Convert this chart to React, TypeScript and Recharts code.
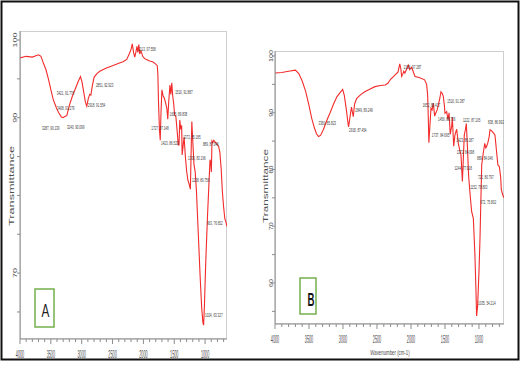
import { LineChart, Line, XAxis, YAxis, ReferenceDot } from 'recharts';

const RED = '#f22b2b';
const AXIS = '#8c8c8c';
const FRAME = '#cfcfcf';
const TXT = '#4d4d4d';
const GREEN = '#74b04c';
const FONT = 'Liberation Sans, Arial, sans-serif';

// wavenumber ticks (cm-1), labelled every 500
const WN_TICKS = [4000, 3900, 3800, 3700, 3600, 3500, 3400, 3300, 3200, 3100, 3000, 2900, 2800, 2700, 2600, 2500, 2400, 2300, 2200, 2100, 2000, 1900, 1800, 1700, 1600, 1500, 1400, 1300, 1200, 1100, 1000, 900, 800, 700];
const T_TICKS_A = [65, 70, 75, 80, 85, 90, 95, 100];
const T_LABELS_A = [100, 90, 70];
const T_TICKS_B = [55, 60, 65, 70, 75, 80, 85, 90, 95, 100];
const T_LABELS_B = [100, 90, 80, 70, 60];

// spectrum A
const A_WN = [4000, 3900, 3800, 3700, 3660, 3620, 3580, 3540, 3500, 3460, 3421, 3408, 3370, 3330, 3300, 3287, 3240, 3200, 3150, 3100, 3060, 3020, 2995, 2965, 2940, 2918, 2895, 2870, 2851, 2830, 2800, 2750, 2700, 2600, 2500, 2400, 2330, 2270, 2230, 2200, 2180, 2160, 2140, 2120, 2105, 2090, 2075, 2060, 2040, 2010, 1980, 1950, 1900, 1850, 1800, 1775, 1765, 1755, 1740, 1727, 1715, 1700, 1680, 1660, 1640, 1620, 1605, 1590, 1570, 1555, 1540, 1525, 1510, 1495, 1473, 1450, 1435, 1423, 1410, 1393, 1380, 1372, 1355, 1340, 1320, 1300, 1280, 1260, 1245, 1238, 1228, 1215, 1200, 1180, 1160, 1140, 1110, 1080, 1055, 1035, 1024, 1010, 995, 984, 960, 935, 920, 908, 898, 889, 875, 860, 840, 810, 780, 760, 740, 720, 700, 680, 663, 645];
const A_T = [97.7, 97.9, 97.8, 98.1, 97.9, 97.0, 96.2, 95.0, 93.6, 92.3, 91.5, 91.2, 90.6, 90.1, 90.0, 90.1, 90.3, 91.6, 92.8, 93.8, 94.6, 95.3, 94.6, 93.2, 92.0, 91.5, 92.4, 93.0, 92.9, 94.0, 95.2, 95.7, 96.0, 96.4, 96.7, 97.0, 97.2, 97.5, 98.2, 98.8, 99.5, 98.4, 97.8, 98.5, 99.2, 98.4, 99.4, 98.2, 98.6, 97.9, 97.6, 97.5, 97.3, 97.2, 96.9, 96.7, 95.5, 92.0, 88.5, 87.1, 90.5, 93.6, 92.8, 92.5, 91.9, 91.2, 89.8, 92.0, 94.2, 93.0, 94.5, 92.8, 91.9, 90.4, 90.1, 88.0, 86.5, 86.5, 89.7, 88.5, 89.0, 85.2, 86.5, 87.5, 85.0, 83.2, 82.0, 81.5, 81.0, 80.8, 85.0, 89.5, 87.0, 84.0, 83.0, 80.5, 75.0, 69.5, 65.5, 63.6, 63.3, 66.0, 70.0, 72.6, 77.5, 82.0, 84.6, 84.2, 83.0, 87.0, 86.8, 87.1, 86.9, 86.6, 86.3, 85.5, 83.5, 80.5, 78.5, 77.0, 76.6, 76.0];

// spectrum B
const B_WN = [4000, 3900, 3800, 3700, 3650, 3600, 3550, 3500, 3460, 3420, 3390, 3360, 3330, 3290, 3240, 3190, 3140, 3090, 3040, 3005, 2980, 2950, 2930, 2918, 2900, 2875, 2860, 2849, 2830, 2800, 2740, 2680, 2600, 2530, 2450, 2380, 2340, 2300, 2240, 2190, 2165, 2150, 2137, 2120, 2106, 2090, 2060, 2040, 2020, 1990, 1960, 1940, 1880, 1800, 1770, 1755, 1745, 1737, 1720, 1706, 1690, 1672, 1652, 1637, 1615, 1598, 1575, 1559, 1540, 1525, 1510, 1500, 1475, 1456, 1440, 1423, 1400, 1392, 1372, 1353, 1328, 1304, 1285, 1265, 1244, 1230, 1216, 1200, 1186, 1170, 1152, 1130, 1108, 1083, 1060, 1045, 1035, 1020, 1000, 985, 960, 936, 915, 900, 889, 870, 850, 838, 820, 790, 765, 740, 722, 700, 680, 672, 650, 632];
const B_T = [97.0, 97.1, 97.3, 97.5, 96.9, 95.6, 93.8, 91.3, 89.0, 87.3, 86.3, 85.8, 86.0, 87.0, 88.6, 90.0, 91.5, 92.8, 93.6, 94.1, 93.0, 90.5, 88.5, 87.5, 89.0, 91.0, 90.0, 89.3, 91.5, 92.5, 93.2, 93.7, 94.2, 94.6, 94.8, 94.9, 95.2, 95.9, 96.6, 97.2, 98.6, 97.8, 96.4, 96.8, 97.3, 97.0, 97.8, 98.4, 97.6, 98.0, 97.0, 96.4, 96.2, 95.8, 95.0, 93.1, 89.0, 84.7, 88.0, 90.8, 90.5, 91.7, 89.4, 89.9, 90.5, 91.3, 92.6, 93.7, 93.4, 92.9, 91.4, 89.9, 90.2, 88.8, 90.0, 86.2, 87.8, 89.2, 84.1, 86.1, 87.1, 84.6, 83.5, 82.6, 77.9, 82.0, 86.1, 87.0, 88.1, 84.0, 78.8, 75.5, 72.6, 71.4, 65.0, 59.0, 54.2, 56.0, 62.0, 67.9, 80.8, 83.0, 84.6, 83.8, 84.0, 84.7, 85.8, 87.0, 86.9, 86.5, 86.1, 83.0, 80.8, 80.5, 78.5, 76.5, 75.5, 75.0];

// peak annotations
const A_PEAK_WN = [3421, 3408, 3287, 3240, 2918, 2851, 2113, 1727, 1605, 1510, 1423, 1372, 1300, 1238, 1024, 889, 663];
const A_PEAK_T = [91.776, 91.279, 90.139, 90.099, 91.554, 92.923, 97.558, 87.148, 89.838, 91.887, 86.523, 85.185, 83.196, 80.756, 63.327, 87.046, 76.652];
const B_PEAK_WN = [3360, 2918, 2849, 2106, 1737, 1652, 1510, 1456, 1423, 1372, 1244, 1222, 1152, 1035, 889, 838, 722, 672];
const B_PEAK_T = [85.823, 87.454, 89.249, 97.287, 84.695, 89.417, 91.387, 88.756, 86.187, 84.098, 77.918, 87.105, 78.803, 54.214, 84.046, 86.992, 80.797, 75.802];

// label nudges (dx, dy) from the marked point - layout only
const A_NUDGE: [number, number][] = [[1, -11], [0.5, 0], [-22, 12], [0, 10], [1, 0], [5, -10], [2, -10], [-9, -12], [2, -5], [1.5, -11], [-18, -2], [1, -18], [1.5, -12], [1.5, -9], [1.5, -10], [-9, 4], [-19, 2]];
const B_NUDGE: [number, number][] = [[0, -13], [0.5, 3], [2, -7], [0, -4], [3, -8], [-12, -11], [3, -4], [-10, -1], [6, 6], [3, 6], [-8, -13], [-1, -9], [1.5, 11], [1.5, -13], [-9.5, 12], [-2, -8], [-20, 12], [-21, 9]];

// horizontally condensed text (the source figure is squeezed sideways)
const SqText = ({ x, y, sx, size, anchor = 'start', fill = TXT, children }: any) => (
  <text transform={`translate(${x} ${y}) scale(${sx} 1)`} x={0} y={0} textAnchor={anchor}
    fontSize={size} fill={fill} fontFamily={FONT}>{children}</text>
);

const XTick = ({ x, y, payload }: any) => {
  const v = payload.value;
  const major = v % 500 === 0;
  const ay = y - 4; // axis line position (tickSize 4, tickMargin 0)
  return (
    <g>
      <line x1={x} y1={ay} x2={x} y2={ay + (major ? 5 : 3)} stroke={AXIS} />
      {major && <SqText x={x} y={ay + 19} sx={0.38} size={10} anchor="middle">{v}</SqText>}
    </g>
  );
};

const YTick = ({ x, y, payload, labels, gap, per }: any) => {
  const v = payload.value;
  const s = String(v);
  const ax = x + 4; // axis line position
  const cx = ax - gap;
  return (
    <g>
      <line x1={ax - 3} y1={y} x2={ax} y2={y} stroke={AXIS} />
      {labels.includes(v) && (
        <text x={cx} y={y} transform={`rotate(-90 ${cx} ${y})`} textAnchor="middle" fontSize={6} fill={TXT}
          textLength={s.length * per} lengthAdjust="spacingAndGlyphs" fontFamily={FONT}>{s}</text>
      )}
    </g>
  );
};

const peakShape = (text: string, n: [number, number]) => (p: any) => (
  <SqText x={p.cx + n[0]} y={p.cy + n[1] + 1.8} sx={0.6} size={5} fill="#3a3a3a">{text}</SqText>
);

function Spectrum({ wn, t, peakWn, peakT, nudge, margin, xMin, yDomain, yTicks, yLabels, gap, per }: any) {
  const data = wn.map((w: number, i: number) => ({ w, t: t[i] }));
  return (
    <div style={{ position: 'absolute', left: 0, top: 0 }}>
      <LineChart width={524} height={391} data={data} margin={margin}>
        <XAxis type="number" dataKey="w" domain={[xMin, 4000]} reversed allowDataOverflow ticks={WN_TICKS} interval={0}
          tickSize={4} tickMargin={0} tickLine={false} height={30} axisLine={{ stroke: AXIS }} tick={<XTick />} />
        <YAxis type="number" domain={yDomain} allowDataOverflow ticks={yTicks} interval={0} width={20}
          tickSize={4} tickMargin={0} tickLine={false} axisLine={{ stroke: AXIS }}
          tick={<YTick labels={yLabels} gap={gap} per={per} />} />
        <Line type="linear" dataKey="t" stroke={RED} strokeWidth={1.1} dot={false} isAnimationActive={false} />
        {peakWn.map((w: number, i: number) => {
          const label = `${w}, ${peakT[i].toFixed(3)}`;
          return <ReferenceDot key={i} x={w} y={peakT[i]} r={1} shape={peakShape(label, nudge[i])} />;
        })}
      </LineChart>
    </div>
  );
}

export default function App() {
  return (
    <div style={{ position: 'absolute', left: 0, top: 0, width: 524, height: 391, background: '#fff', fontFamily: FONT }}>
      {/* plot frames */}
      <div style={{ position: 'absolute', left: 20, top: 31, width: 207, height: 308, border: `1px solid ${FRAME}`, boxSizing: 'border-box' }} />
      <div style={{ position: 'absolute', left: 275, top: 51, width: 229, height: 273, border: `1px solid ${FRAME}`, boxSizing: 'border-box' }} />
      <Spectrum wn={A_WN} t={A_T} peakWn={A_PEAK_WN} peakT={A_PEAK_T} nudge={A_NUDGE}
        margin={{ top: 31, left: 0, right: 297, bottom: 22 }} xMin={645} yDomain={[61.52, 101.16]}
        yTicks={T_TICKS_A} yLabels={T_LABELS_A} gap={2.5} per={5} />
      <Spectrum wn={B_WN} t={B_T} peakWn={B_PEAK_WN} peakT={B_PEAK_T} nudge={B_NUDGE}
        margin={{ top: 51, left: 255, right: 20, bottom: 37 }} xMin={632} yDomain={[52.77, 100.88]}
        yTicks={T_TICKS_B} yLabels={T_LABELS_B} gap={2} per={4} />
      <svg width={524} height={391} style={{ position: 'absolute', left: 0, top: 0, pointerEvents: 'none' }}>
        <rect x={1.5} y={1.5} width={517} height={358} fill="none" stroke="#111" strokeWidth={2} />
        <text x={14} y={186} transform="rotate(-90 14 186)" textAnchor="middle" fontSize={7} fill={TXT} textLength={80} lengthAdjust="spacingAndGlyphs">Transmittance</text>
        <text x={267.5} y={186} transform="rotate(-90 267.5 186)" textAnchor="middle" fontSize={7} fill={TXT} textLength={74} lengthAdjust="spacingAndGlyphs">Transmittance</text>
        <SqText x={390} y={355} sx={0.62} size={7} anchor="middle">Wavenumber (cm-1)</SqText>
        <rect x={35} y={289} width={19} height={38} fill="#fff" stroke={GREEN} strokeWidth={1.5} />
        <SqText x={45.5} y={317} sx={0.62} size={19} anchor="middle" fill="#222">A</SqText>
        <rect x={300} y={278} width={16} height={36} fill="#fff" stroke={GREEN} strokeWidth={1.5} />
        <text x={311} y={306} textAnchor="middle" fontSize={18} fontWeight="bold" fill="#111" textLength={7} lengthAdjust="spacingAndGlyphs">B</text>
      </svg>
    </div>
  );
}
